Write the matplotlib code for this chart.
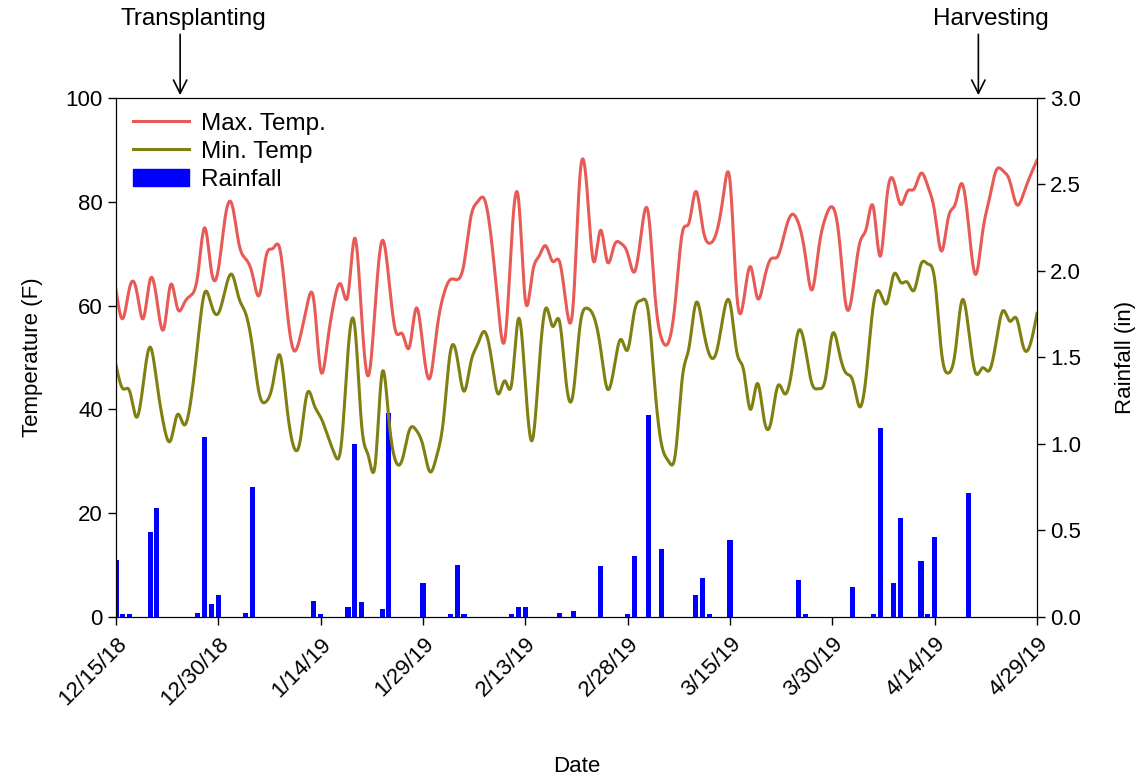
import numpy as np
import matplotlib
matplotlib.use("Agg")
import matplotlib.pyplot as plt
from matplotlib.patches import Patch
from matplotlib.lines import Line2D

plt.rcParams['font.family'] = ['Liberation Sans', 'DejaVu Sans']

# daily readings, day 0 = 12/15/18 ... day 135 = 4/29/19
max_temp = [63, 57.5, 63.5, 63, 57.5, 65, 61, 55.5, 64, 59.5,
            60.5, 62, 66, 75, 66.5, 67, 77, 79.5, 72, 69,
            66, 62, 69.5, 71, 71, 60, 51.5, 54, 60, 61,
            47.5, 53, 61, 64, 62, 73, 58, 46.5, 60, 72.5,
            65, 55, 54.5, 52, 59.5, 52, 46, 55, 62, 65,
            65, 68, 77, 80, 80.5, 73, 60, 53.5, 73, 80.5,
            61, 66, 69.5, 71.5, 68.5, 68.5, 60, 60, 85, 83,
            68.5, 74.5, 68.5, 71.5, 72, 70, 66.5, 74, 78, 62,
            53.5, 53, 61, 74, 76, 82, 75, 72, 74, 81,
            84, 62, 61, 67.5, 61.5, 65, 69, 69.5, 74, 77.5,
            76, 70, 63, 71, 77, 79, 73, 60, 63, 72,
            75, 79, 69.5, 81, 84, 79.5, 82, 82.5, 85.5, 83,
            78, 70.5, 77, 79.5, 83.5, 75, 66, 74, 80.5, 86,
            86, 84, 79.5, 81.5, 85, 88]

min_temp = [48.5, 44, 43.5, 38.5, 45, 52, 45, 37, 34, 39,
            37, 42, 53, 62.5, 60, 58.5, 63, 66, 61.5, 58.5,
            52, 43, 41.5, 45, 50.5, 41, 33, 34, 43, 41,
            38.5, 35, 31.5, 33, 51, 56, 37, 31, 29.5, 47,
            38, 30, 30.5, 36, 36, 33, 28, 31, 38, 51,
            50, 43.5, 49, 52.5, 55, 50, 43, 45.5, 45, 57.5,
            45, 34, 48, 59.5, 56, 57, 45, 43, 56, 59.5,
            58, 52, 44, 48, 53.5, 51.5, 59, 61, 59, 44,
            33, 30, 31.5, 46, 52, 60.5, 56, 50.5, 51, 58,
            60.5, 51, 47.5, 40, 45, 38, 37.5, 44.5, 43, 47,
            55, 52, 45, 44, 46, 54.5, 51, 47, 45.5, 40.5,
            47, 60, 62.5, 60.5, 66, 64.5, 64.5, 63, 68, 68,
            65, 51, 47, 51, 61, 55, 47, 48, 47.5, 53,
            59, 57, 57.5, 52, 52.5, 58.5]

rain_days = [0, 1, 2, 5, 6, 12, 13, 14, 15, 19, 20, 29, 30, 34, 35, 36,
             39, 40, 45, 49, 50, 51, 58, 59, 60, 65, 67, 71, 75, 76, 78,
             80, 85, 86, 87, 90, 100, 101, 108, 111, 112, 114, 115, 118,
             119, 120, 125]
rain_in = [0.33, 0.015, 0.015, 0.49, 0.63, 0.025, 1.04, 0.075, 0.125, 0.025,
           0.75, 0.095, 0.02, 0.055, 1.00, 0.085, 0.045, 1.18, 0.195, 0.015,
           0.30, 0.015, 0.015, 0.055, 0.055, 0.025, 0.035, 0.295, 0.015, 0.355,
           1.17, 0.395, 0.127, 0.227, 0.015, 0.445, 0.214, 0.015, 0.175, 0.02,
           1.09, 0.195, 0.574, 0.326, 0.015, 0.464, 0.715]

tick_days = [0, 15, 30, 45, 60, 75, 90, 105, 120, 135]
tick_labels = ['12/15/18', '12/30/18', '1/14/19', '1/29/19', '2/13/19',
               '2/28/19', '3/15/19', '3/30/19', '4/14/19', '4/29/19']


def natural_spline(x, y, xs):
    x = np.asarray(x, float)
    y = np.asarray(y, float)
    n = len(x)
    h = np.diff(x)
    A = np.zeros((n, n))
    b = np.zeros(n)
    A[0, 0] = A[-1, -1] = 1
    for i in range(1, n - 1):
        A[i, i - 1] = h[i - 1]
        A[i, i] = 2 * (h[i - 1] + h[i])
        A[i, i + 1] = h[i]
        b[i] = 3 * ((y[i + 1] - y[i]) / h[i] - (y[i] - y[i - 1]) / h[i - 1])
    c = np.linalg.solve(A, b)
    idx = np.clip(np.searchsorted(x, xs) - 1, 0, n - 2)
    dx = xs - x[idx]
    bb = (y[idx + 1] - y[idx]) / h[idx] - h[idx] * (2 * c[idx] + c[idx + 1]) / 3
    dd = (c[idx + 1] - c[idx]) / (3 * h[idx])
    return y[idx] + bb * dx + c[idx] * dx ** 2 + dd * dx ** 3


days = np.arange(len(max_temp))
xs = np.linspace(0, days[-1], 2000)

fig = plt.figure(figsize=(11.44, 7.82), dpi=100)
ax = fig.add_axes([0.1014, 0.211, 0.8051, 0.6637])
ax2 = ax.twinx()

ax2.bar(rain_days, rain_in, width=0.75, color='#0000FF', zorder=1)
ax.set_zorder(ax2.get_zorder() + 1)
ax.patch.set_visible(False)

red = '#E85A55'
olive = '#808012'
ax.plot(xs, natural_spline(days, max_temp, xs), color=red, lw=2.2)
ax.plot(xs, natural_spline(days, min_temp, xs), color=olive, lw=2.2)

ax.set_xlim(0, 135)
ax.set_ylim(0, 100)
ax2.set_ylim(0, 3.0)
ax.set_yticks([0, 20, 40, 60, 80, 100])
ax2.set_yticks(np.arange(0, 3.01, 0.5))
ax2.set_yticklabels([f'{v:.1f}' for v in np.arange(0, 3.01, 0.5)])
ax.set_xticks(tick_days)
ax.set_xticklabels(tick_labels, rotation=45, ha='right', rotation_mode='anchor')

for a in (ax, ax2):
    a.tick_params(direction='out', length=6, width=1, labelsize=16)
ax.tick_params(axis='x', pad=6)

ax.set_xlabel('Date', fontsize=16, labelpad=33)
ax.set_ylabel('Temperature (F)', fontsize=16, labelpad=16)
ax2.set_ylabel('Rainfall (in)', fontsize=16, labelpad=24)

handles = [Line2D([], [], color=red, lw=2.2),
           Line2D([], [], color=olive, lw=2.2),
           Patch(color='#0000FF')]
ax.legend(handles, ['Max. Temp.', 'Min. Temp', 'Rainfall'], loc='upper left',
          frameon=False, fontsize=17.5, handlelength=2.3, handletextpad=0.5,
          labelspacing=0.25, borderaxespad=0.0, bbox_to_anchor=(0.008, 0.99))

for day, label, tx in [(9.4, 'Transplanting', 11.3), (126.4, 'Harvesting', 128.2)]:
    ax.annotate('', xy=(day, 1.0), xycoords=('data', 'axes fraction'),
                xytext=(day, 1.128), textcoords=('data', 'axes fraction'),
                arrowprops=dict(arrowstyle='->', color='black', lw=1.2,
                                mutation_scale=24))
    ax.text(tx, 1.14, label, transform=ax.get_xaxis_transform(),
            ha='center', va='baseline', fontsize=17.5)

fig.savefig('out.png', dpi=100)
